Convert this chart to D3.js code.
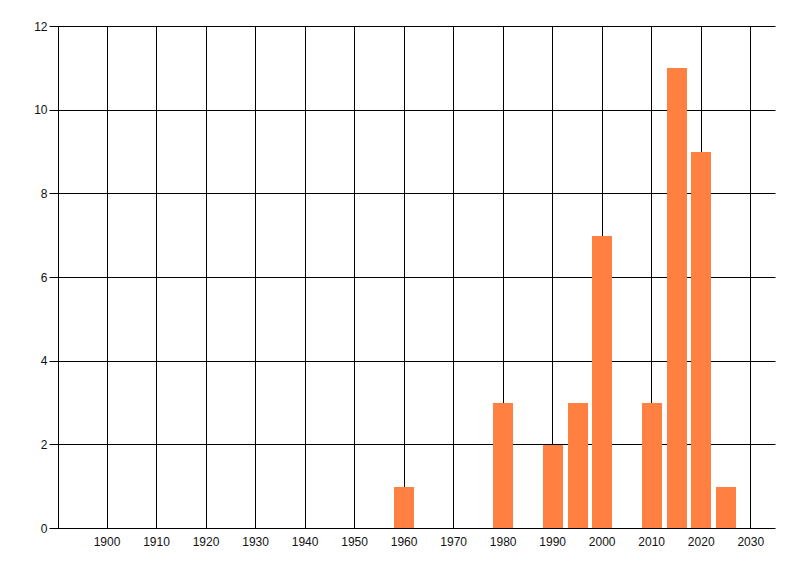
<html>
<script src="https://d3js.org/d3.v7.min.js"></script>
<body style="margin:0;background:#fff">
<svg width=800 height=576></svg>
<script>
// counts per year bucket
const years  = [1960, 1980, 1990, 1995, 2000, 2010, 2015, 2020, 2025];
const counts = [1, 3, 2, 3, 7, 3, 11, 9, 1];
const xTicks = [1900, 1910, 1920, 1930, 1940, 1950, 1960, 1970, 1980, 1990, 2000, 2010, 2020, 2030];
const yTicks = [0, 2, 4, 6, 8, 10, 12];

const svg = d3.select("svg");
const plotLeft = 58.5, plotRight = 775.5, plotTop = 26.5, plotBottom = 528.5;

const x = d3.scaleLinear().domain([1890, 2035]).range([57.5, plotRight]);
const y = d3.scaleLinear().domain([0, 12]).range([plotBottom, plotTop]);

// vertical grid lines
svg.append("g").selectAll("line").data(xTicks).join("line")
    .attr("x1", d => Math.floor(x(d)) + 0.5).attr("x2", d => Math.floor(x(d)) + 0.5)
    .attr("y1", plotTop).attr("y2", plotBottom)
    .attr("stroke", "black").attr("stroke-width", 1);

// horizontal grid lines (with tick stubs on the left)
svg.append("g").selectAll("line").data(yTicks).join("line")
    .attr("x1", plotLeft - 9).attr("x2", plotRight)
    .attr("y1", d => Math.round(y(d) - 0.5) + 0.5).attr("y2", d => Math.round(y(d) - 0.5) + 0.5)
    .attr("stroke", "black").attr("stroke-width", 1);

// y axis line
svg.append("line").attr("x1", plotLeft).attr("x2", plotLeft).attr("y1", plotTop).attr("y2", plotBottom)
    .attr("stroke", "black");

// bars, 4 years wide centred on their year
svg.append("g").selectAll("rect").data(years).join("rect")
    .attr("x", d => Math.round(x(d - 2)))
    .attr("width", d => Math.round(x(d + 2) - x(d - 2)))
    .attr("y", (d, i) => Math.round(y(counts[i])))
    .attr("height", (d, i) => Math.round(y(0) - 0.5) - Math.round(y(counts[i])))
    .attr("fill", "#FF8040");

// labels
svg.append("g").selectAll("text").data(xTicks).join("text")
    .attr("x", d => x(d)).attr("y", plotBottom + 17)
    .attr("text-anchor", "middle")
    .style("font", "12px 'Liberation Sans', Arial, sans-serif").attr("fill", "#111")
    .text(d => d);

svg.append("g").selectAll("text").data(yTicks).join("text")
    .attr("x", plotLeft - 11).attr("y", d => y(d) + 4)
    .attr("text-anchor", "end")
    .style("font", "12px 'Liberation Sans', Arial, sans-serif").attr("fill", "#111")
    .text(d => d);
</script>
</body>
</html>
